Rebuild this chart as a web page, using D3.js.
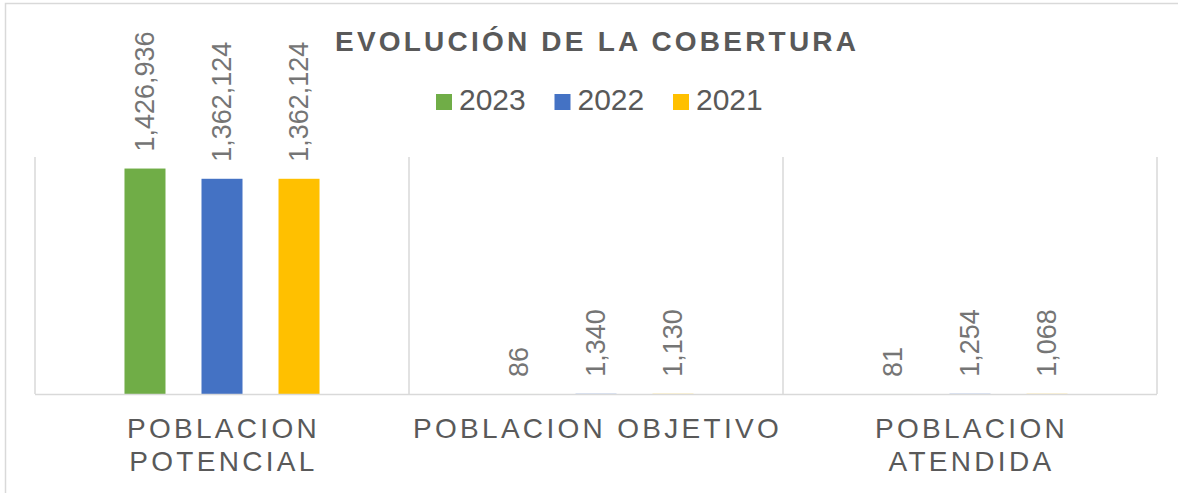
<!DOCTYPE html>
<html>
<head>
<meta charset="utf-8">
<script src="https://cdn.jsdelivr.net/npm/d3@7"></script>
<style>
  html, body { margin: 0; padding: 0; background: #fff; }
  text { font-family: "Liberation Sans", Arial, sans-serif; }
</style>
</head>
<body>
<div id="chart"></div>
<script>
// data
const categories = ["POBLACION POTENCIAL", "POBLACION OBJETIVO", "POBLACION ATENDIDA"];
const tickLabels = [["POBLACION", "POTENCIAL"], ["POBLACION OBJETIVO"], ["POBLACION", "ATENDIDA"]];
const seriesNames = ["2023", "2022", "2021"];
const values2023 = [1426936, 86, 81];
const values2022 = [1362124, 1340, 1254];
const values2021 = [1362124, 1130, 1068];
const seriesColors = ["#70ad47", "#4472c4", "#ffc000"];
const yMax = 1500000;

const width = 1178, height = 493;
const margin = { left: 35, right: 21, top: 157, bottom: 99 };
const allValues = [values2023, values2022, values2021];

const rows = categories.map((c, i) => ({
  cat: c,
  vals: seriesNames.map((s, j) => ({ series: s, value: allValues[j][i], idx: j }))
}));

const svg = d3.select("#chart").append("svg")
  .attr("width", width)
  .attr("height", height);

// outer frame
svg.append("rect")
  .attr("x", 5.5).attr("y", 3.5)
  .attr("width", 1300).attr("height", 600)
  .attr("fill", "none").attr("stroke", "#d9d9d9").attr("stroke-width", 1.5);

const x = d3.scaleBand()
  .domain(categories)
  .range([margin.left, width - margin.right]);

const x1 = d3.scaleBand()
  .domain(seriesNames)
  .range([0, x.bandwidth()])
  .paddingInner(0.4675)
  .paddingOuter(1.162);

const y = d3.scaleLinear()
  .domain([0, yMax])
  .range([height - margin.bottom, margin.top]);

// vertical category gridlines
const bounds = categories.map(c => x(c)).concat([x.range()[1]]);
svg.append("g").selectAll("line")
  .data(bounds)
  .join("line")
  .attr("x1", d => d).attr("x2", d => d)
  .attr("y1", y(yMax)).attr("y2", y(0))
  .attr("stroke", "#d9d9d9").attr("stroke-width", 1.5);

// bars
const groups = svg.append("g").selectAll("g")
  .data(rows)
  .join("g")
  .attr("transform", d => `translate(${x(d.cat)},0)`);

groups.selectAll("rect")
  .data(d => d.vals)
  .join("rect")
  .attr("x", d => x1(d.series))
  .attr("width", x1.bandwidth())
  .attr("y", d => y(d.value))
  .attr("height", d => y(0) - y(d.value))
  .attr("fill", d => seriesColors[d.idx]);

// value labels
const fmt = d3.format(",");
groups.selectAll("text")
  .data(d => d.vals)
  .join("text")
  .attr("transform", d => `translate(${x1(d.series) + x1.bandwidth() / 2},${y(d.value) - 17}) rotate(-90)`)
  .attr("dy", "0.35em")
  .attr("font-size", 27)
  .attr("fill", "#757575")
  .text(d => fmt(d.value));

// baseline
svg.append("line")
  .attr("x1", x.range()[0]).attr("x2", x.range()[1])
  .attr("y1", y(0) + 0.5).attr("y2", y(0) + 0.5)
  .attr("stroke", "#d9d9d9").attr("stroke-width", 1.5);

// category labels
const catText = svg.append("g").selectAll("text")
  .data(categories)
  .join("text")
  .attr("x", d => x(d) + x.bandwidth() / 2 + 1.5)
  .attr("y", 438)
  .attr("text-anchor", "middle")
  .attr("font-size", 28)
  .attr("letter-spacing", 3.3)
  .attr("fill", "#595959");

catText.selectAll("tspan")
  .data((d, i) => tickLabels[i])
  .join("tspan")
  .attr("x", function () { return d3.select(this.parentNode).attr("x"); })
  .attr("dy", (d, i) => i === 0 ? 0 : 33)
  .text(d => d);

// title
svg.append("text")
  .attr("x", 335)
  .attr("y", 51)
  .attr("font-size", 28)
  .attr("font-weight", "bold")
  .attr("fill", "#595959")
  .attr("textLength", 521)
  .attr("lengthAdjust", "spacing")
  .text("EVOLUCIÓN DE LA COBERTURA");

// legend
const legend = svg.append("g").selectAll("g")
  .data(seriesNames)
  .join("g")
  .attr("transform", (d, i) => `translate(${436 + i * 118.5},94)`);

legend.append("rect")
  .attr("width", 16).attr("height", 16)
  .attr("fill", (d, i) => seriesColors[i]);

legend.append("text")
  .attr("x", 23)
  .attr("y", 16)
  .attr("font-size", 30)
  .attr("fill", "#595959")
  .text(d => d);
</script>
</body>
</html>
